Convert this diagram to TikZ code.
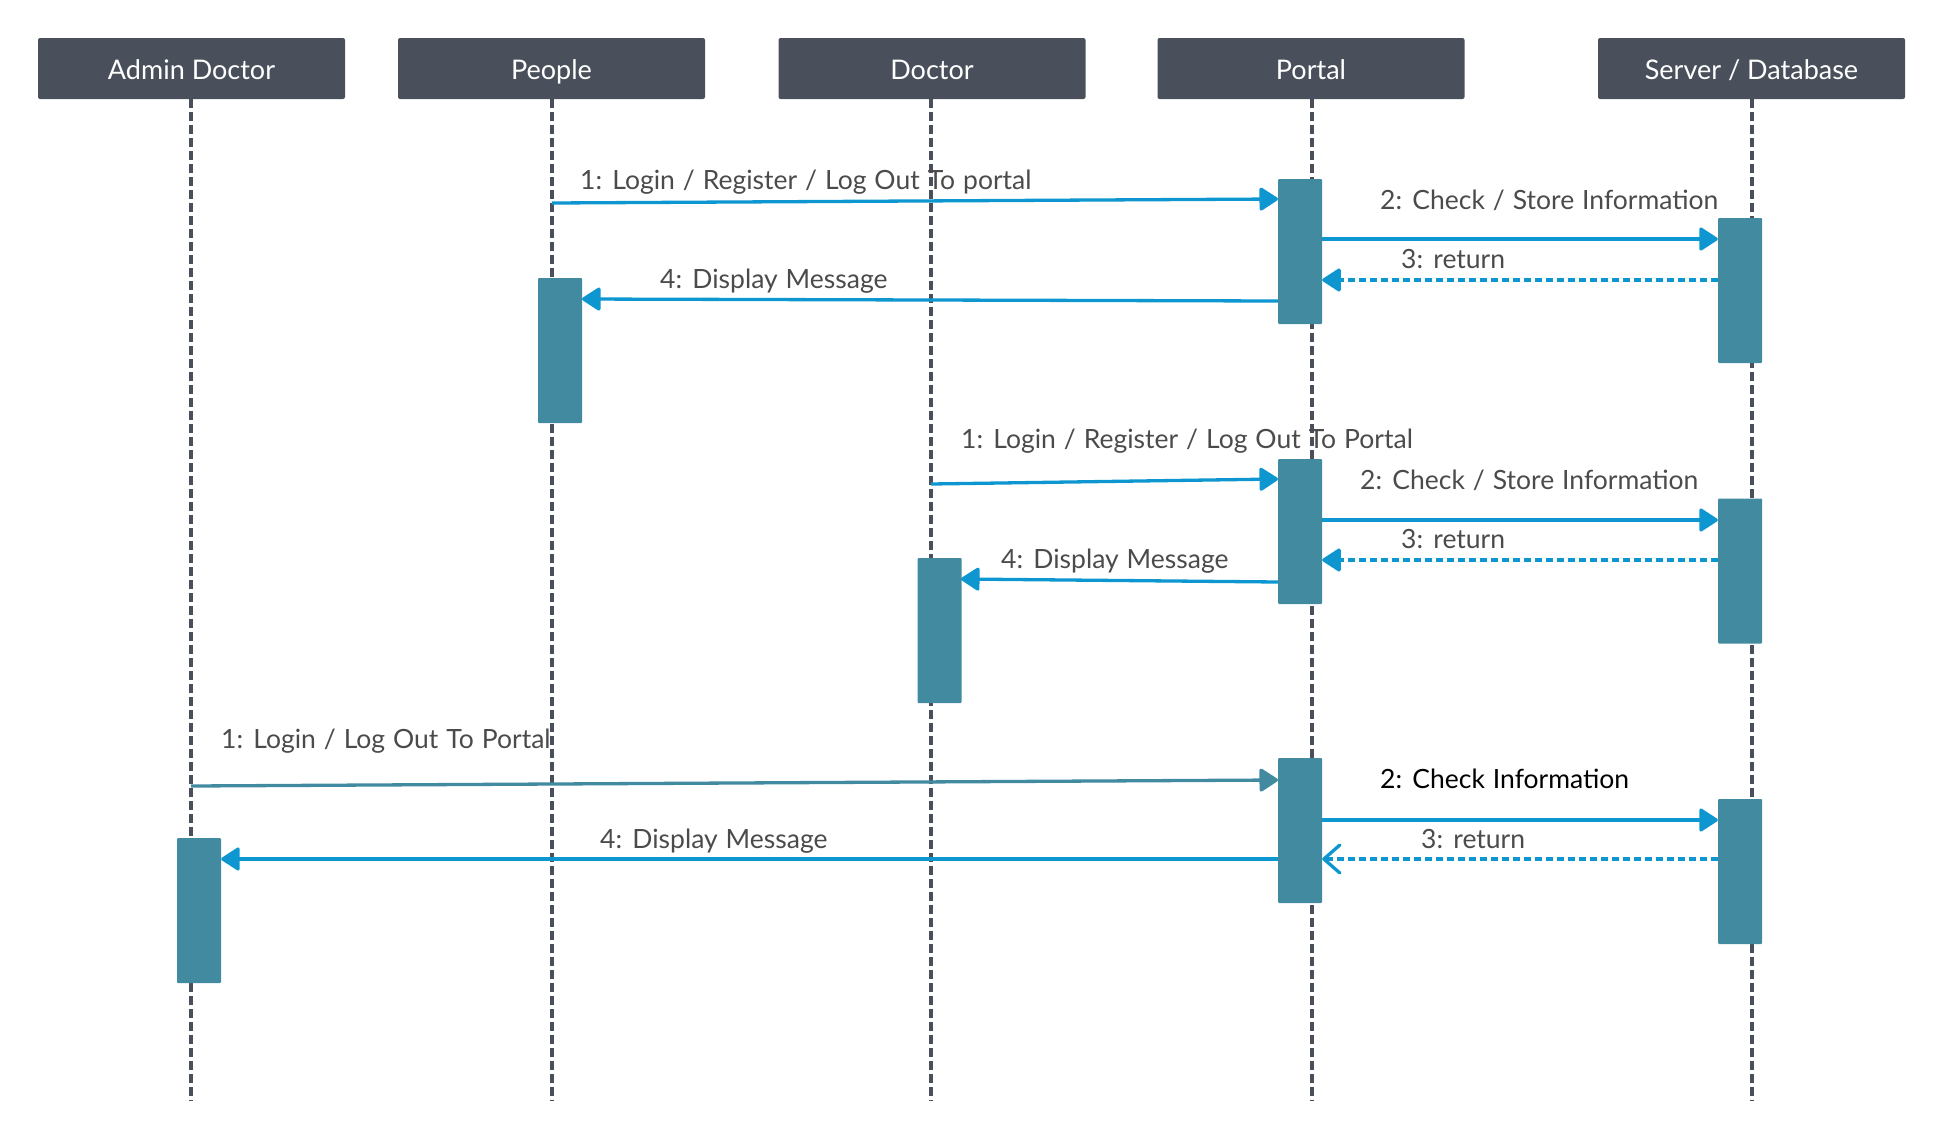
\documentclass[tikz,border=0pt]{standalone}
\usepackage{fontspec}
\setmainfont{Lato}
\usetikzlibrary{arrows.meta}
\definecolor{hdr}{HTML}{4A505B}
\definecolor{act}{HTML}{418AA0}
\definecolor{msgblue}{HTML}{0D96D0}
\definecolor{txt}{HTML}{4B4B4B}
\newcommand\lblfont{\fontsize{26.5}{30}\selectfont\spaceskip=0.3em\relax}
\tikzset{
  header/.style={rectangle, rounded corners=2pt, fill=hdr, text=white, minimum width=307pt, minimum height=61pt, inner sep=0pt, text height=23pt, text depth=2pt, font=\fontsize{27}{31}\selectfont},
  lifeline/.style={draw=hdr, line width=3.4pt, dash pattern=on 8.5pt off 4.5pt},
  actbox/.style={rectangle, rounded corners=1pt, fill=act, minimum width=44pt, minimum height=145pt, inner sep=0pt},
  msg/.style={draw=msgblue, line width=3.3pt, -{Triangle[length=20pt,width=25pt,round]}},
  ret/.style={draw=msgblue, line width=3.3pt, dash pattern=on 7pt off 4pt, -{Triangle[length=20pt,width=25pt,round]}},
  retopen/.style={draw=msgblue, line width=3.3pt, dash pattern=on 7pt off 4pt, -{Straight Barb[length=16pt,width=28pt,line width=3.3pt,round]}},
  msgteal/.style={draw=act, line width=3.3pt, -{Triangle[length=20pt,width=25pt,round]}},
  lbl/.style={anchor=west, inner sep=0pt, text=txt, text height=21.5pt, text depth=2.5pt, font=\lblfont},
  lblblack/.style={lbl, text=black},
}
\begin{document}
\begin{tikzpicture}[x=1pt,y=-1pt]
\useasboundingbox (0,0) rectangle (1944,1141);
% headers
\node[header] (hA) at (191.5,68.5) {Admin Doctor};
\node[header] (hP) at (551.5,68.5) {People};
\node[header] (hD) at (932,68.5) {Doctor};
\node[header] (hO) at (1311,68.5) {Portal};
\node[header] (hS) at (1751.5,68.5) {Server / Database};
% lifeline ends
\coordinate (eA) at (191,1101);
\coordinate (eP) at (552,1101);
\coordinate (eD) at (931,1101);
\coordinate (eO) at (1312,1101);
\coordinate (eS) at (1752,1101);
\draw[lifeline] (hA.south -| eA) -- (eA);
\draw[lifeline] (hP.south -| eP) -- (eP);
\draw[lifeline] (hD.south -| eD) -- (eD);
\draw[lifeline] (hO.south -| eO) -- (eO);
\draw[lifeline] (hS.south -| eS) -- (eS);
% activation boxes
\node[actbox] (pa1) at (1300,251.5) {};
\node[actbox] (sa1) at (1740,290.5) {};
\node[actbox] (ppa) at (560,350.5) {};
\node[actbox] (pa2) at (1300,531.5) {};
\node[actbox] (sa2) at (1740,571) {};
\node[actbox] (da) at (939.5,630.5) {};
\node[actbox] (pa3) at (1300,830.5) {};
\node[actbox] (sa3) at (1740,871.5) {};
\node[actbox] (aa) at (199,910.5) {};
% message anchor points
\coordinate (m1s) at (552,203);
\coordinate (m1e) at (1278,199);
\coordinate (m4s) at (1278,301);
\coordinate (m4e) at (582,299);
\coordinate (n1s) at (931,484);
\coordinate (n1e) at (1278,479);
\coordinate (n4s) at (1278,582);
\coordinate (n4e) at (961,579);
\coordinate (k1s) at (191,786);
\coordinate (k1e) at (1278,780);
% set 1
\draw[msg] (m1s) -- (m1e);
\draw[msg] (pa1.east |- 0,239) -- (sa1.west |- 0,239);
\draw[ret] (sa1.west |- 0,280) -- (pa1.east |- 0,280);
\draw[msg] (m4s) -- (m4e);
\node[lbl] (l11) at (580,180) {1: Login / Register / Log Out To portal};
\node[lbl] (l12) at (1380,200) {2: Check / Store Information};
\node[lbl] (l13) at (1401,259) {3: return};
\node[lbl] (l14) at (660,279) {4: Display Message};
% set 2
\draw[msg] (n1s) -- (n1e);
\draw[msg] (pa2.east |- 0,520) -- (sa2.west |- 0,520);
\draw[ret] (sa2.west |- 0,560) -- (pa2.east |- 0,560);
\draw[msg] (n4s) -- (n4e);
\node[lbl] (l21) at (961,439) {1: Login / Register / Log Out To Portal};
\node[lbl] (l22) at (1360,480) {2: Check / Store Information};
\node[lbl] (l23) at (1401,539) {3: return};
\node[lbl] (l24) at (1001,559) {4: Display Message};
% set 3
\draw[msgteal] (k1s) -- (k1e);
\draw[msg] (pa3.east |- 0,820) -- (sa3.west |- 0,820);
\draw[retopen] (sa3.west |- 0,859) -- (pa3.east |- 0,859);
\draw[msg] (pa3.west |- 0,859) -- (aa.east |- 0,859);
\node[lbl] (l31) at (221,739) {1: Login / Log Out To Portal};
\node[lblblack] (l32) at (1380,779) {2: Check Information};
\node[lbl] (l33) at (1421,839) {3: return};
\node[lbl] (l34) at (600,839) {4: Display Message};
\end{tikzpicture}
\end{document}
